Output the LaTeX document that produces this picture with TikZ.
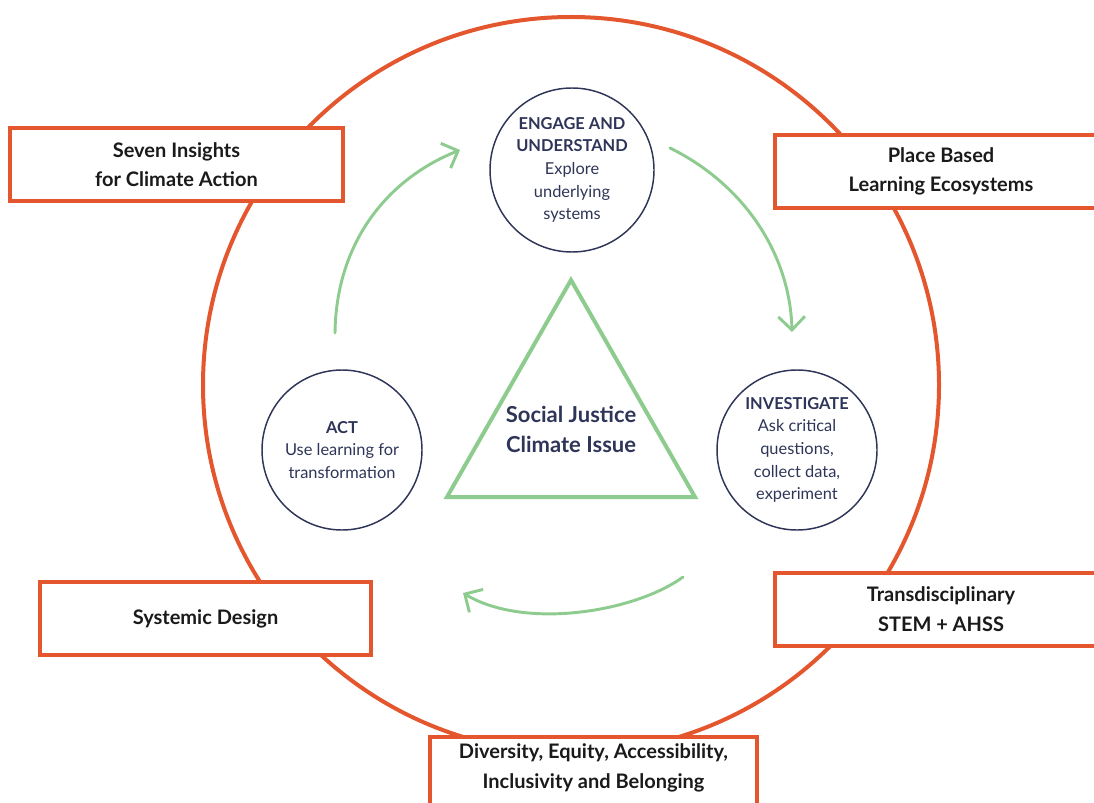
\documentclass[tikz,border=0pt]{standalone}
\usepackage{fontspec}
\setmainfont{Lato}
\usetikzlibrary{arrows.meta}
\definecolor{orng}{HTML}{E4572E}
\definecolor{navy}{HTML}{2E3558}
\definecolor{grn}{HTML}{8DCB8F}
\definecolor{ink}{HTML}{1A1A1A}
\tikzset{
  outerbox/.style={draw=orng, line width=3pt, fill=white, rectangle, minimum height=54.75pt, inner sep=0pt, align=center, text=ink, font=\fontsize{15}{22}\selectfont\bfseries},
  stagecirc/.style={draw=navy, line width=1.1pt, circle, inner sep=0pt, align=center, text=navy, font=\fontsize{12.3}{17}\selectfont},
  cyclearrow/.style={draw=grn, line width=2.2pt, line cap=round, -{Straight Barb[length=10pt, width=20pt, line width=2.2pt]}}
}
\newcommand{\ttl}[1]{{\bfseries #1}}
\begin{document}
\begin{tikzpicture}[x=0.75pt, y=-0.75pt]
\useasboundingbox (0,0) rectangle (1094,802);
% big orange circle
\node[draw=orng, line width=3pt, circle, minimum size=552pt, inner sep=0pt] (ring) at (571,385) {};
% triangle
\coordinate (tA) at (571,280);
\coordinate (tB) at (447,497);
\coordinate (tC) at (695,497);
\draw[draw=grn, line width=3pt, line join=miter] (tA) -- (tB) -- (tC) -- cycle;
\node[text=navy, align=center, font=\fontsize{16.5}{22.5}\selectfont\bfseries] (issue) at (571,429) {Social Justice\\Climate Issue};
% stage circles
\node[stagecirc, minimum size=123pt] (engage) at (572,170) {\ttl{ENGAGE AND}\\\ttl{UNDERSTAND}\\Explore\\underlying\\systems};
\node[stagecirc, minimum size=120pt] (investigate) at (797,450) {\ttl{INVESTIGATE}\\Ask critical\\questions,\\collect data,\\experiment};
\node[stagecirc, minimum size=120pt] (act) at (342,450) {\ttl{ACT}\\Use learning for\\transformation};
% arrows
\coordinate (a1s) at (335,333);
\coordinate (a1e) at (460,150);
\coordinate (a2s) at (670,148);
\coordinate (a2e) at (792,332);
\coordinate (a3s) at (683,577);
\coordinate (a3e) at (463,593);
\draw[cyclearrow] (a1s) .. controls (336,245) and (385,180) .. (a1e);
\draw[cyclearrow] (a2s) .. controls (745,185) and (790,255) .. (a2e);
\draw[cyclearrow] (a3s) .. controls (635,612) and (525,630) .. (a3e);
% boxes
\node[outerbox, minimum width=250pt] (seven) at (176.5,164.5) {Seven Insights\\for Climate Action};
\node[outerbox, minimum width=249pt] (place) at (941,171.5) {Place Based\\Learning Ecosystems};
\node[outerbox, minimum width=248pt] (systemic) at (205.5,618.5) {Systemic Design};
\node[outerbox, minimum width=249pt] (trans) at (941,609) {Transdisciplinary\\STEM + AHSS};
\node[outerbox, minimum width=245pt] (dei) at (593.5,773.5) {};
\node[text=ink, align=center, font=\fontsize{15}{22}\selectfont\bfseries] (deitext) at (593.5,768) {Diversity, Equity, Accessibility,\\Inclusivity and Belonging};
\end{tikzpicture}
\end{document}
